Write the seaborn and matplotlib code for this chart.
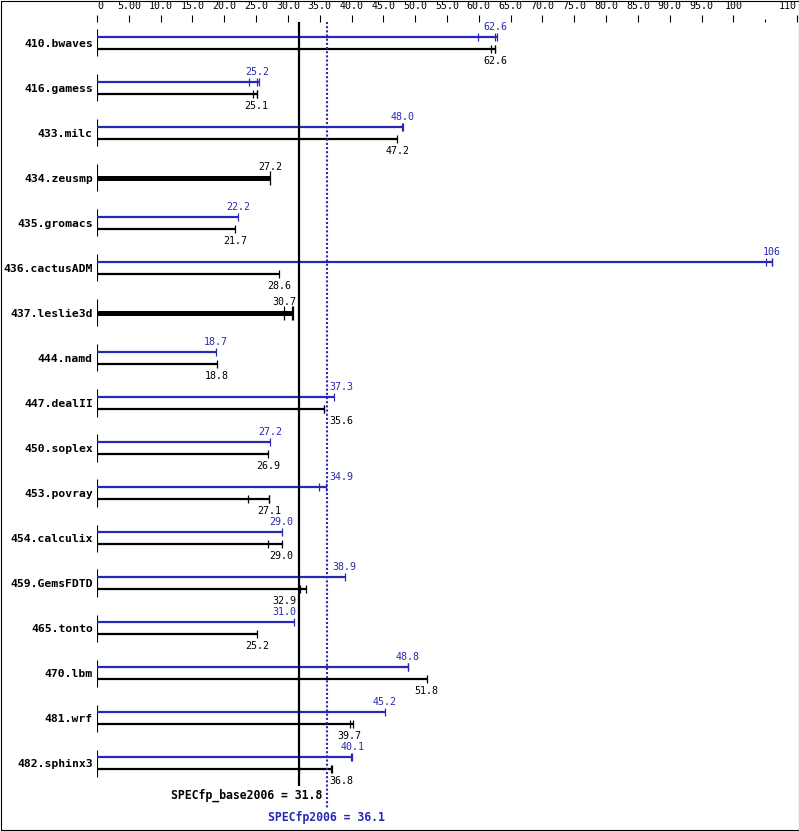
import matplotlib
matplotlib.use('Agg')
import matplotlib.pyplot as plt
from matplotlib.patches import Rectangle
import seaborn as sns
import pandas as pd

# SPECfp2006 result chart data
benchmarks = ['410.bwaves', '416.gamess', '433.milc', '434.zeusmp', '435.gromacs',
              '436.cactusADM', '437.leslie3d', '444.namd', '447.dealII', '450.soplex',
              '453.povray', '454.calculix', '459.GemsFDTD', '465.tonto', '470.lbm',
              '481.wrf', '482.sphinx3']
base_score = [62.6, 25.1, 47.2, 27.2, 21.7, 28.6, 30.7, 18.8, 35.6, 26.9,
              27.1, 29.0, 32.9, 25.2, 51.8, 39.7, 36.8]
peak_score = [62.6, 25.2, 48.0, None, 22.2, 106, None, 18.7, 37.3, 27.2,
              34.9, 29.0, 38.9, 31.0, 48.8, 45.2, 40.1]
base_runs = [[61.9, 62.6, 62.6], [24.5, 25.1, 25.2], [47.2], [27.2], [21.7], [28.6],
             [29.4, 30.7, 30.8], [18.8], [35.6, 35.7], [26.9], [23.8, 27.1, 27.1],
             [26.8, 29.0], [31.9, 32.9], [25.2], [51.8], [39.7, 40.2], [31.8, 36.8, 37.0]]
peak_runs = [[59.8, 62.6, 62.8], [23.9, 25.2, 25.4], [48.0, 48.1], None, [22.2],
             [105.2, 106, 106.1], None, [18.7], [37.3], [27.2], [34.9, 36.0], [29.0],
             [38.9], [31.0], [48.8, 48.9], [45.2], [39.9, 40.1]]
specfp_base = 31.8
specfp_peak = 36.1
xticks = [0, 5, 10, 15, 20, 25, 30, 35, 40, 45, 50, 55, 60, 65, 70, 75, 80, 85, 90, 95, 100, 110]
xtick_labels = ['0', '5.00', '10.0', '15.0', '20.0', '25.0', '30.0', '35.0', '40.0', '45.0',
                '50.0', '55.0', '60.0', '65.0', '70.0', '75.0', '80.0', '85.0', '90.0',
                '95.0', '100', '110']

sns.set_style('white')
plt.rcParams['font.family'] = ['DejaVu Sans Mono']
plt.rcParams['text.color'] = 'black'
plt.rcParams['xtick.labelcolor'] = 'black'
plt.rcParams['ytick.labelcolor'] = 'black'

BLUE = '#2828b4'
W, H = 799, 831
fig = plt.figure(figsize=(W / 100, H / 100), dpi=100)
ax = fig.add_axes([97 / W, 1 - 808 / H, 700 / W, (808 - 22) / H])
top, bottom = -21 / 45, 765 / 45
ax.set_xlim(0, 110)
ax.set_ylim(bottom, top)
off = 6 / 45

# bars + run ticks
ticks = []
for i, name in enumerate(benchmarks):
    ax.vlines(0, i - 0.3, i + 0.3, color='black', lw=0.8)
    if peak_runs[i] is None:
        ax.hlines(i, 0, max(base_runs[i]), color='black', lw=3.6)
        for v in base_runs[i]:
            ticks.append({'x': v, 'y': i, 'kind': 'base', 'thick': True})
    else:
        ax.hlines(i - off, 0, max(peak_runs[i]), color=BLUE, lw=1.6)
        ax.hlines(i + off, 0, max(base_runs[i]), color='black', lw=1.6)
        for v in peak_runs[i]:
            ticks.append({'x': v, 'y': i - off, 'kind': 'peak', 'thick': False})
        for v in base_runs[i]:
            ticks.append({'x': v, 'y': i + off, 'kind': 'base', 'thick': False})
ticks = pd.DataFrame(ticks)
sns.scatterplot(data=ticks, x='x', y='y', hue='kind', palette={'peak': BLUE, 'base': 'black'},
                size='thick', sizes={False: 40, True: 100}, marker='|', linewidth=0.9,
                legend=False, ax=ax)


def label_x(v):
    half = 1.9
    if abs(v - specfp_peak) < half + 0.3:
        return specfp_peak + 0.4 + half
    if abs(v - specfp_base) < half + 0.45:
        return specfp_base - 0.5 - half
    return v


for i in range(len(benchmarks)):
    if peak_score[i] is None:
        ax.text(label_x(base_score[i]), i - 0.25, f'{base_score[i]:.1f}', ha='center', va='center',
                fontsize=7.2, color='black')
    else:
        p = peak_score[i]
        ptxt = f'{p:.0f}' if p >= 100 else f'{p:.1f}'
        ax.text(label_x(p), i - 0.35, ptxt, ha='center', va='center', fontsize=7.2, color=BLUE)
        ax.text(label_x(base_score[i]), i + 0.39, f'{base_score[i]:.1f}', ha='center', va='center',
                fontsize=7.2, color='black')

# overall score lines
ax.vlines(specfp_base, top, 743 / 45, color='black', lw=1.6)
ax.vlines(specfp_peak, top, bottom, color=BLUE, lw=1.5, linestyles=(0, (1, 1)))
ax.text(specfp_base + 3.6, 752 / 45, f'SPECfp_base2006 = {specfp_base}', ha='right', va='center',
        fontsize=8.3, fontweight='bold', color='black', clip_on=False)
ax.text(specfp_peak, 774 / 45, f'SPECfp2006 = {specfp_peak}', ha='center', va='center',
        fontsize=8.3, fontweight='bold', color=BLUE, clip_on=False)

# axes
ax.xaxis.tick_top()
ax.set_xticks(xticks)
ax.set_xticklabels(xtick_labels)
ax.set_xticks([105], minor=True)
ax.tick_params(axis='x', which='major', top=True, bottom=False, length=5, width=0.8,
               pad=3, labelsize=7.2, direction='out', color='black', labelcolor='black')
ax.tick_params(axis='x', which='minor', top=True, bottom=False, length=2.2, width=0.8, color='black')
lbls = ax.get_xticklabels()
lbls[0].set_ha('left')
lbls[-1].set_ha('right')
ax.set_yticks(range(len(benchmarks)))
ax.set_yticklabels(benchmarks, fontweight='bold', fontsize=8.2, color='black')
ax.tick_params(axis='y', length=0, pad=3, labelcolor='black')
ax.set_xlabel('')
ax.set_ylabel('')
ax.grid(False)
for s in ax.spines.values():
    s.set_visible(False)

fig.add_artist(Rectangle((0.5 / W, 1.5 / H), 798 / W, 829 / H, transform=fig.transFigure,
                         fill=False, lw=0.8, ec='black'))
fig.savefig('out.png', dpi=100, facecolor='white')
